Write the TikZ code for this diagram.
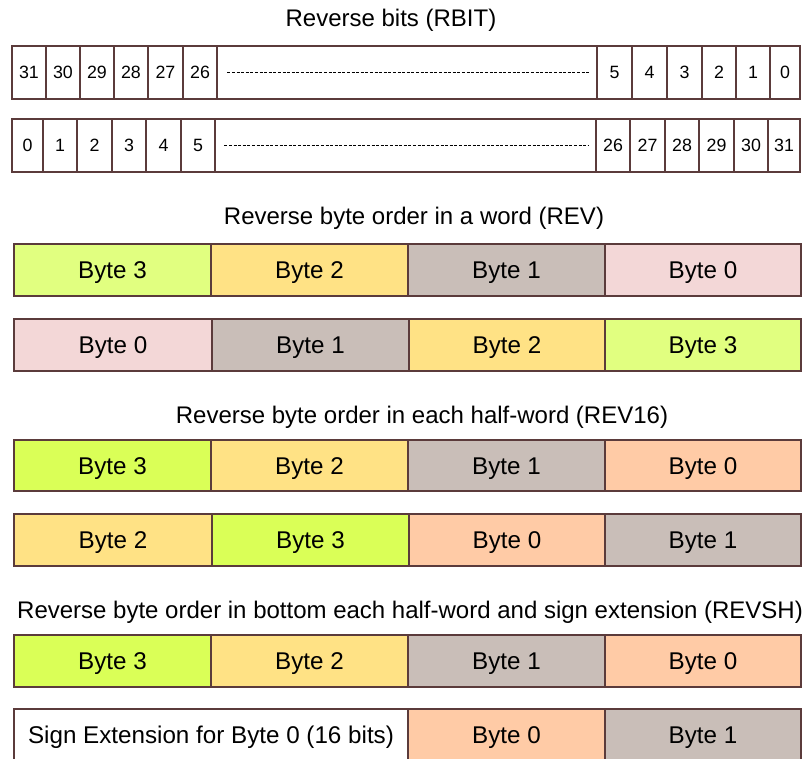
\documentclass[tikz,border=0pt]{standalone}
\usepackage{fontspec}
\setmainfont{Liberation Sans}
\definecolor{bd}{HTML}{5B3B3B}
\definecolor{gA}{HTML}{E1FF80}
\definecolor{gB}{HTML}{DAFF57}
\definecolor{yel}{HTML}{FFE285}
\definecolor{gry}{HTML}{C9BEB8}
\definecolor{pnk}{HTML}{F3D7D7}
\definecolor{pch}{HTML}{FFCBA6}
\newcommand\cellbox[8][]{\node[cell,#1,fill=#7,minimum width={(#5-#3)*1pt},minimum height={(#6-#4)*1pt}] (#2) at ({(#3+#5)/2},{(#4+#6)/2}) {#8};}
\newcommand\bitrow[4]{% prefix, top, bottom, list
  \foreach \name/\xa/\xb/\lab in {#4} {\cellbox[bitcell]{#1\name}{\xa}{#2}{\xb}{#3}{white}{\lab}}}
\begin{document}
\begin{tikzpicture}[x=1pt,y=-1pt,
  cell/.style={draw=bd,line width=1.4pt,inner sep=0pt,anchor=center,text height=17.3pt,text depth=0pt,font=\fontsize{24.2}{28}\selectfont},
  bitcell/.style={font=\fontsize{17.8}{20}\selectfont,text height=12.7pt},
  title/.style={inner sep=0pt,text height=17.2pt,text depth=0pt,font=\fontsize{24.0}{28}\selectfont},
  dashline/.style={draw=black,line width=0.8pt,dash pattern=on 3pt off 1.6pt}]
\useasboundingbox (0,0) rectangle (803,758);
\clip (0,0) rectangle (803,758);

% RBIT
\node[title] (t1) at (391,18) {Reverse bits (RBIT)};
\bitrow{a}{46}{99}{1/12/46/31,2/46/80/30,3/80/114/29,4/114/148/28,5/148/183/27,6/183/217/26,d/217/597/{},7/597/632/5,8/632/667/4,9/667/702/3,10/702/736/2,11/736/770/1,12/770/800/0}
\bitrow{b}{119}{172}{1/12/43/0,2/43/77/1,3/77/112/2,4/112/146/3,5/146/181/4,6/181/215/5,d/215/596/{},7/596/630/26,8/630/665/27,9/665/699/28,10/699/734/29,11/734/768/30,12/768/800/31}
\draw[dashline] ([xshift=11pt]ad.center -| ad.west) -- ([xshift=-9pt]ad.center -| ad.east);
\draw[dashline] ([xshift=10pt]bd.center -| bd.west) -- ([xshift=-8pt]bd.center -| bd.east);

% REV
\node[title] (t2) at (414,216) {Reverse byte order in a word (REV)};
\cellbox{c1}{14}{244}{211}{296}{gA}{Byte 3}
\cellbox{c2}{211}{244}{408}{296}{yel}{Byte 2}
\cellbox{c3}{408}{244}{605}{296}{gry}{Byte 1}
\cellbox{c4}{605}{244}{801}{296}{pnk}{Byte 0}
\cellbox{d1}{14}{319}{212}{371}{pnk}{Byte 0}
\cellbox{d2}{212}{319}{409}{371}{gry}{Byte 1}
\cellbox{d3}{409}{319}{605}{371}{yel}{Byte 2}
\cellbox{d4}{605}{319}{801}{371}{gA}{Byte 3}

% REV16
\node[title] (t3) at (422,415) {Reverse byte order in each half-word (REV16)};
\cellbox{e1}{14}{440}{211}{491}{gB}{Byte 3}
\cellbox{e2}{211}{440}{408}{491}{yel}{Byte 2}
\cellbox{e3}{408}{440}{605}{491}{gry}{Byte 1}
\cellbox{e4}{605}{440}{801}{491}{pch}{Byte 0}
\cellbox{f1}{14}{514}{212}{566}{yel}{Byte 2}
\cellbox{f2}{212}{514}{409}{566}{gB}{Byte 3}
\cellbox{f3}{409}{514}{605}{566}{pch}{Byte 0}
\cellbox{f4}{605}{514}{801}{566}{gry}{Byte 1}

% REVSH
\node[title,anchor=west] (t4) at (17,609.5) {Reverse byte order in bottom each half-word and sign extension (REVSH)};
\cellbox{g1}{14}{635}{211}{687}{gB}{Byte 3}
\cellbox{g2}{211}{635}{408}{687}{yel}{Byte 2}
\cellbox{g3}{408}{635}{605}{687}{gry}{Byte 1}
\cellbox{g4}{605}{635}{801}{687}{pch}{Byte 0}
\cellbox{h1}{14}{709}{408}{761}{white}{Sign Extension for Byte 0 (16 bits)}
\cellbox{h2}{408}{709}{605}{761}{pch}{Byte 0}
\cellbox{h3}{605}{709}{801}{761}{gry}{Byte 1}
\end{tikzpicture}
\end{document}
